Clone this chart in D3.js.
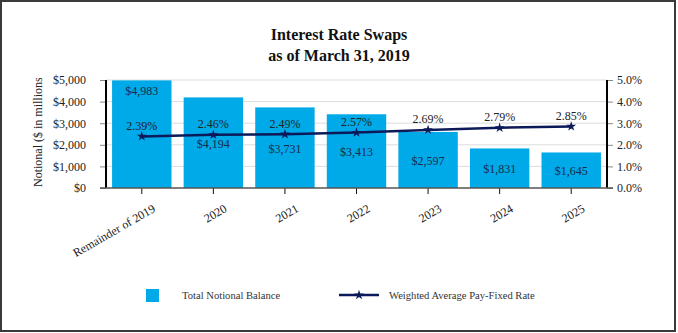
<!DOCTYPE html>
<html>
<head>
<meta charset="utf-8">
<script src="https://cdn.jsdelivr.net/npm/d3@7"></script>
<style>
  html, body { margin: 0; padding: 0; background: #fff; }
  svg { display: block; font-family: "Liberation Serif", "Times New Roman", serif; }
</style>
</head>
<body>
<svg id="chart" width="678" height="333"></svg>
<script>
// Maturity buckets and swap figures
const categories = ["Remainder of 2019", "2020", "2021", "2022", "2023", "2024", "2025"];
const notional = [4983, 4194, 3731, 3413, 2597, 1831, 1645];          // $ in millions
const payFixedRate = [2.39, 2.46, 2.49, 2.57, 2.69, 2.79, 2.85];      // percent
const leftTicks = [0, 1000, 2000, 3000, 4000, 5000];
const rightTicks = [0, 1, 2, 3, 4, 5];
const titleLines = ["Interest Rate Swaps", "as of March 31, 2019"];
const legendLabels = ["Total Notional Balance", "Weighted Average Pay-Fixed Rate"];

const barColor = "#00a9e8";
const lineColor = "#0c1a5a";

const svg = d3.select("#chart");
const W = 678, H = 333;
const plot = { left: 106, right: 607, top: 80, bottom: 188 };

// outer frame
svg.append("rect")
  .attr("x", 1).attr("y", 1).attr("width", W - 4).attr("height", H - 3)
  .attr("fill", "#fff").attr("stroke", "#3a3a3a").attr("stroke-width", 2);

// title
svg.append("g").selectAll("text").data(titleLines).join("text")
  .attr("x", 339).attr("y", (d, i) => 40 + i * 21)
  .attr("text-anchor", "middle")
  .attr("font-weight", "bold").attr("font-size", 16).attr("fill", "#111")
  .text(d => d);

const x = d3.scaleBand().domain(categories)
  .range([plot.left, plot.right]).paddingInner(0.17).paddingOuter(0.085);
const y = d3.scaleLinear().domain([0, 5000]).range([plot.bottom, plot.top]);
const y2 = d3.scaleLinear().domain([0, 5]).range([plot.bottom, plot.top]);

// gridlines
svg.append("g").selectAll("line").data(leftTicks.filter(d => d > 0)).join("line")
  .attr("x1", plot.left).attr("x2", plot.right)
  .attr("y1", d => y(d)).attr("y2", d => y(d))
  .attr("stroke", "#dcdcdc").attr("stroke-width", 1);

// bars
svg.append("g").selectAll("rect").data(notional).join("rect")
  .attr("x", (d, i) => x(categories[i]))
  .attr("width", x.bandwidth())
  .attr("y", d => y(d))
  .attr("height", d => y(0) - y(d))
  .attr("fill", barColor);

// left axis
const leftAxis = svg.append("g").attr("transform", `translate(${plot.left},0)`)
  .call(d3.axisLeft(y).tickValues(leftTicks).tickSize(6).tickPadding(14)
    .tickFormat(d => "$" + d3.format(",")(d)));
leftAxis.select(".domain").remove();
leftAxis.selectAll(".tick line").attr("stroke", "#888");
leftAxis.selectAll(".tick text").attr("font-family", "Liberation Serif").attr("font-size", 12).attr("fill", "#222");

// right axis
const rightAxis = svg.append("g").attr("transform", `translate(${plot.right},0)`)
  .call(d3.axisRight(y2).tickValues(rightTicks).tickSize(6).tickPadding(4)
    .tickFormat(d => d3.format(".1f")(d) + "%"));
rightAxis.select(".domain").remove();
rightAxis.selectAll(".tick line").attr("stroke", "#888");
rightAxis.selectAll(".tick text").attr("font-family", "Liberation Serif").attr("font-size", 12).attr("fill", "#222");

// bottom axis
const bottomAxis = svg.append("g").attr("transform", `translate(0,${plot.bottom})`)
  .call(d3.axisBottom(x).tickSize(6).tickPadding(4));
bottomAxis.select(".domain").remove();
bottomAxis.selectAll(".tick line").attr("stroke", "#111");
bottomAxis.selectAll(".tick text")
  .attr("font-family", "Liberation Serif").attr("font-size", 12).attr("fill", "#222")
  .attr("text-anchor", "end")
  .attr("transform", "translate(4,5) rotate(-30)")
  .attr("dy", "0.9em");

// axis frame lines
const frame = svg.append("g").attr("stroke", "#000").attr("stroke-width", 2);
frame.append("line").attr("x1", plot.left).attr("x2", plot.left).attr("y1", plot.top).attr("y2", plot.bottom);
frame.append("line").attr("x1", plot.right).attr("x2", plot.right).attr("y1", plot.top).attr("y2", plot.bottom);
frame.append("line").attr("x1", 100).attr("x2", 613).attr("y1", plot.bottom).attr("y2", plot.bottom)
  .attr("stroke", "#555").attr("stroke-width", 1.5);

// left axis title, clipped at the plot top
svg.append("clipPath").attr("id", "ytitle-clip")
  .append("rect").attr("x", 0).attr("y", 78).attr("width", 100).attr("height", 200);
svg.append("g").attr("clip-path", "url(#ytitle-clip)")
  .append("text")
  .attr("transform", `translate(42,187) rotate(-90)`)
  .attr("text-anchor", "start").attr("font-size", 12).attr("fill", "#222")
  .text("Notional ($ in millions)");

// pay-fixed rate line
const cx = i => x(categories[i]) + x.bandwidth() / 2;
const line = d3.line().x((d, i) => cx(i)).y(d => y2(d));
svg.append("path").datum(payFixedRate)
  .attr("d", line).attr("fill", "none")
  .attr("stroke", lineColor).attr("stroke-width", 2.5);
svg.append("g").selectAll("path").data(payFixedRate).join("path")
  .attr("transform", (d, i) => `translate(${cx(i)},${y2(d)})`)
  .attr("d", d3.symbol(d3.symbolStar, 30))
  .attr("fill", lineColor);

// rate labels above the line
svg.append("g").selectAll("text").data(payFixedRate).join("text")
  .attr("x", (d, i) => cx(i)).attr("y", d => y2(d) - 6.5)
  .attr("text-anchor", "middle").attr("font-size", 12).attr("fill", "#222")
  .text(d => d3.format(".2f")(d) + "%");

// notional labels: centred in the bar, moved to the top when the rate line crosses the middle
svg.append("g").selectAll("text").data(notional).join("text")
  .attr("x", (d, i) => cx(i))
  .attr("y", (d, i) => {
    const mid = (y(d) + y(0)) / 2;
    return Math.abs(mid - y2(payFixedRate[i])) < 6 ? y(d) + 15 : mid + 5;
  })
  .attr("text-anchor", "middle").attr("font-size", 12).attr("fill", "#1a2a4a")
  .text(d => "$" + d3.format(",")(d));

// legend
const lg = svg.append("g");
lg.append("rect").attr("x", 146).attr("y", 289).attr("width", 13).attr("height", 13).attr("fill", barColor);
lg.append("text").attr("x", 182).attr("y", 299).attr("font-size", 10.6).attr("fill", "#333").text(legendLabels[0]);
lg.append("line").attr("x1", 339).attr("x2", 379).attr("y1", 295).attr("y2", 295)
  .attr("stroke", lineColor).attr("stroke-width", 2.5);
lg.append("path").attr("transform", "translate(359,295)")
  .attr("d", d3.symbol(d3.symbolStar, 30)).attr("fill", lineColor);
lg.append("text").attr("x", 389).attr("y", 299).attr("font-size", 10.6).attr("fill", "#333").text(legendLabels[1]);
</script>
</body>
</html>
